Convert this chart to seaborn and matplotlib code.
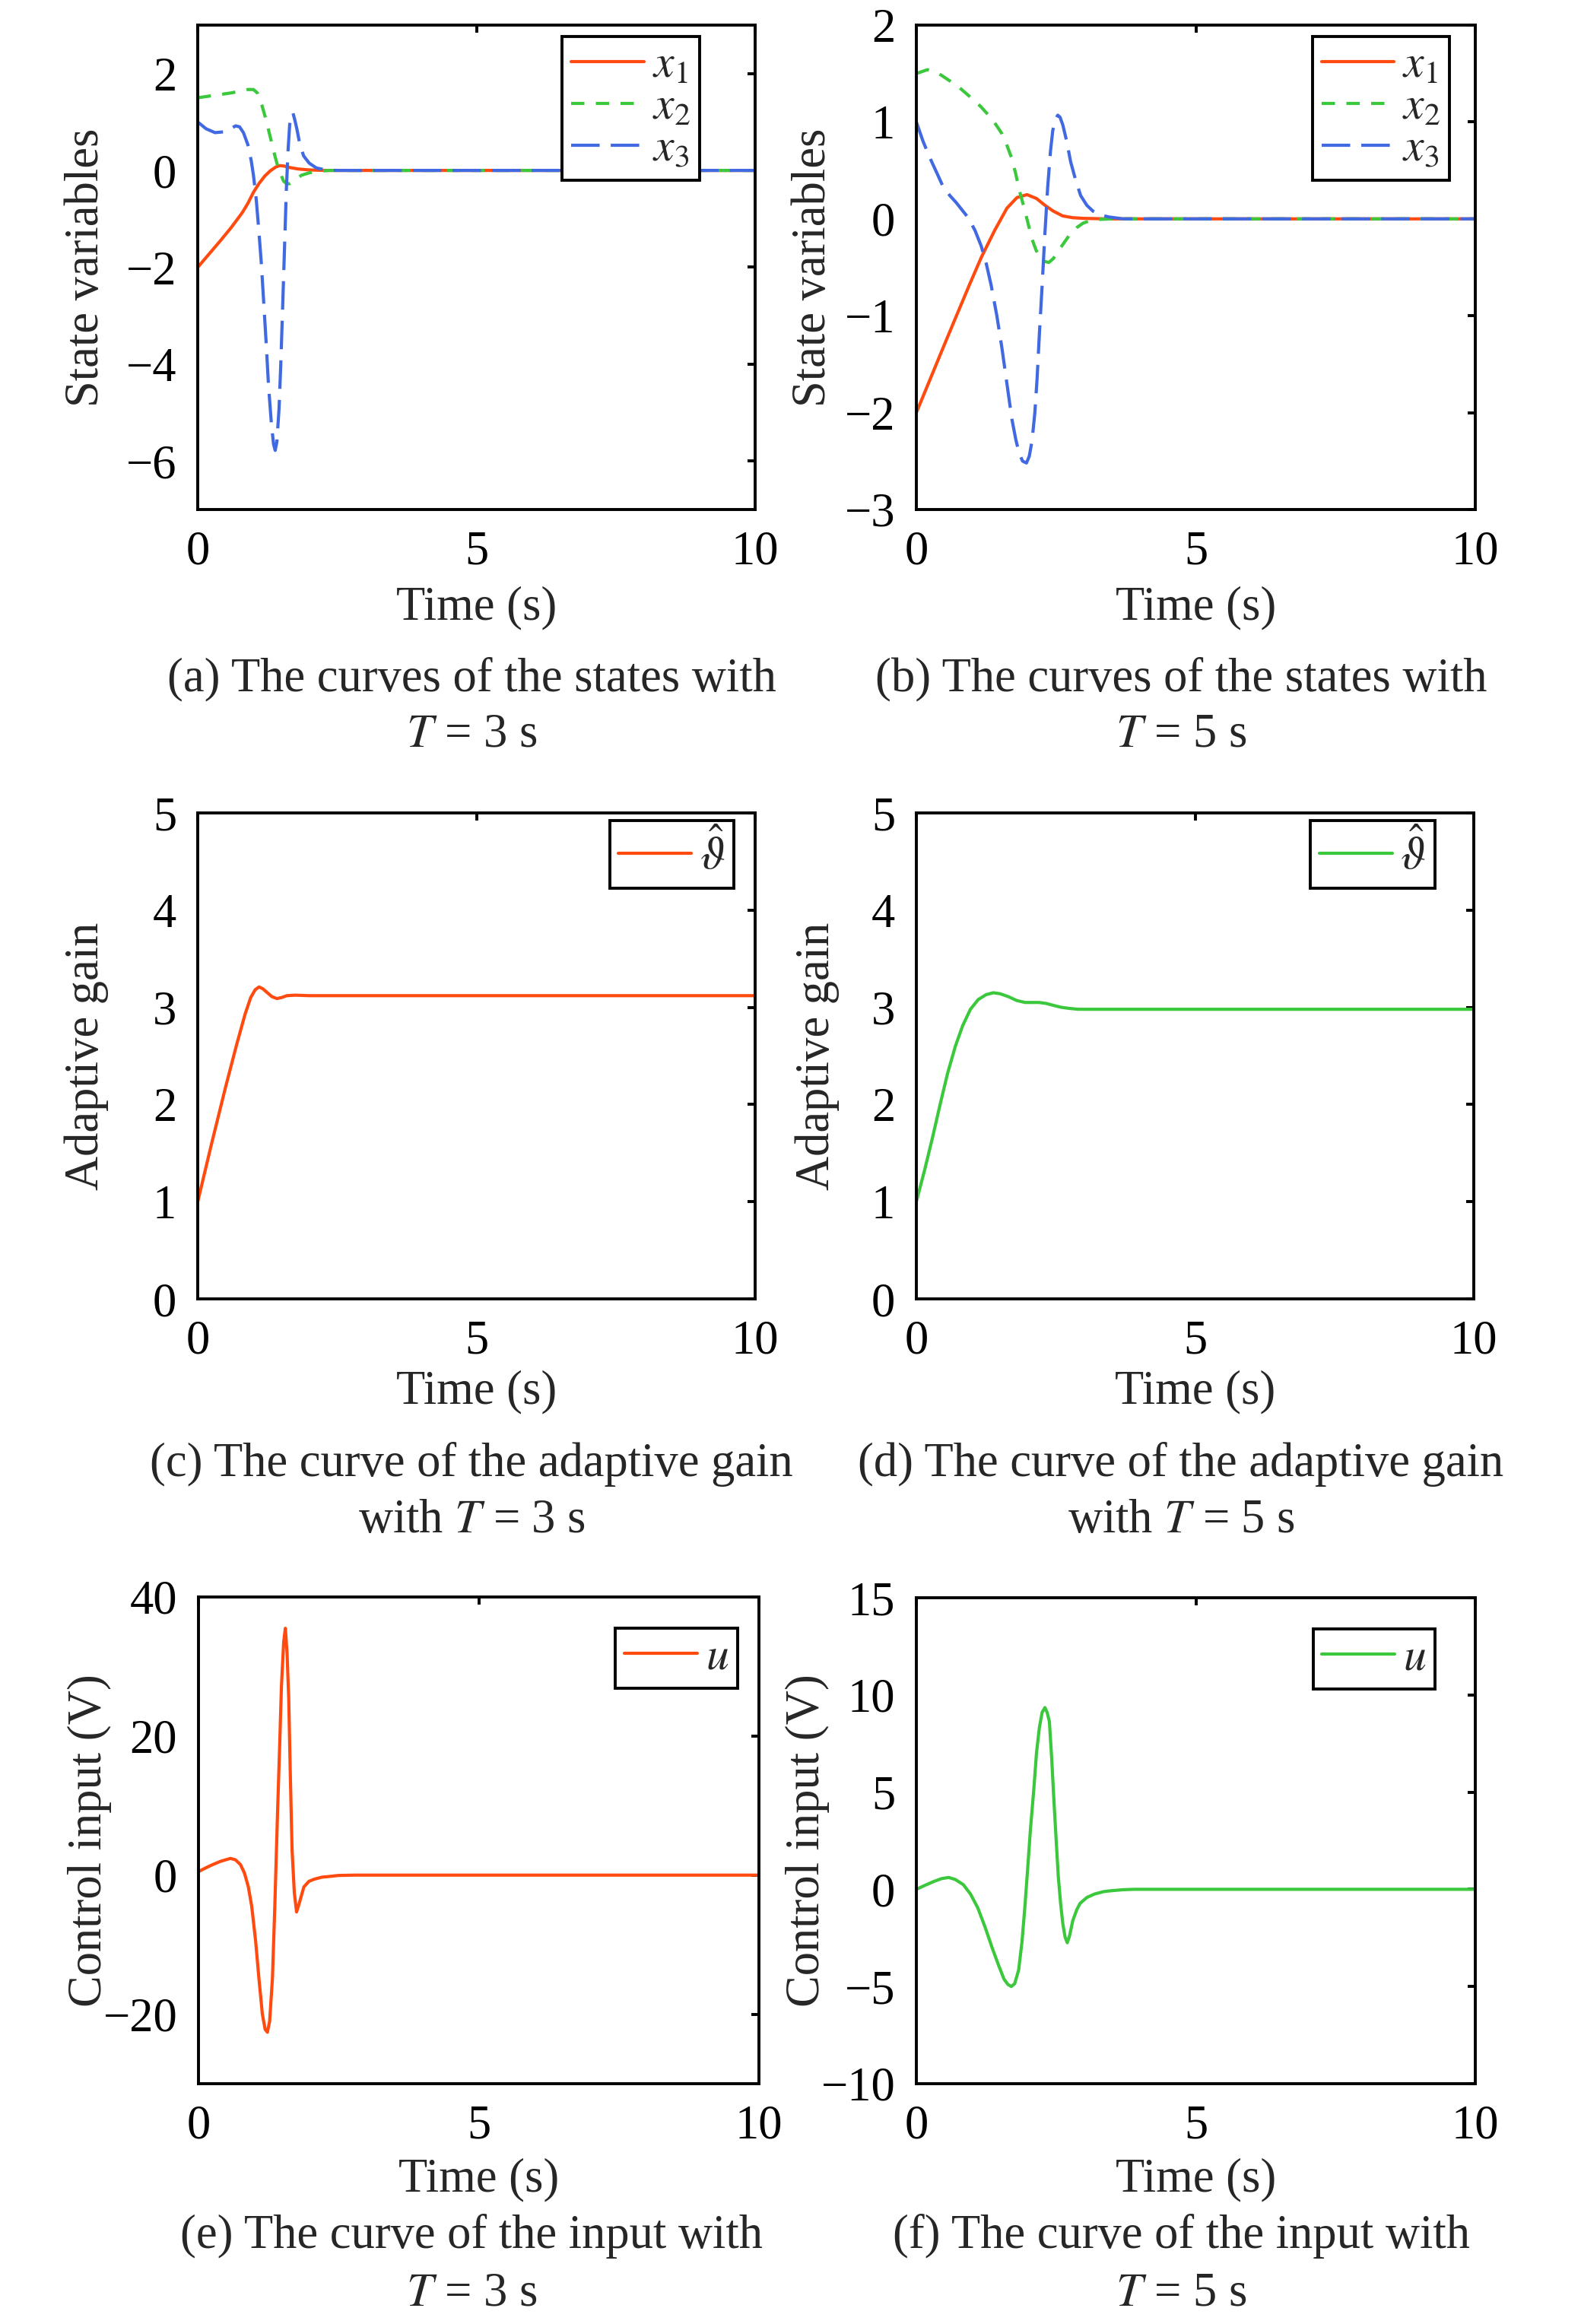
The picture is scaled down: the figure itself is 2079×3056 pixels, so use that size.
import matplotlib
matplotlib.use("Agg")
import numpy as np
import pandas as pd
import matplotlib.pyplot as plt
import seaborn as sns

# ---- data (time in s) ----
# (a) states, T = 3 s
t_a1 = [0, 0.2, 0.4, 0.6, 0.8, 0.9, 1.0, 1.1, 1.2, 1.3, 1.4, 1.47, 1.55, 1.65, 1.8, 2.0, 2.3, 10]
x1_a = [-2, -1.73, -1.46, -1.18, -0.87, -0.68, -0.45, -0.27, -0.12, -0.01, 0.07, 0.1, 0.09, 0.06, 0.03, 0.01, 0, 0]
t_a2 = [0, 0.3, 0.6, 0.9, 1.0, 1.07, 1.15, 1.22, 1.31, 1.38, 1.43, 1.49, 1.54, 1.6, 1.66, 1.75, 1.86, 2.0,
        2.13, 2.35, 10]
x2_a = [1.5, 1.55, 1.6, 1.67, 1.67, 1.6, 1.35, 1.07, 0.65, 0.32, 0.11, -0.08, -0.22, -0.28, -0.27, -0.2, -0.1,
        -0.05, -0.02, 0, 0]
t_a3 = [0, 0.15, 0.31, 0.5, 0.68, 0.75, 0.82, 0.9, 0.96, 1.0, 1.05, 1.09, 1.14, 1.18, 1.23, 1.27, 1.32, 1.36,
        1.39, 1.42, 1.46, 1.49, 1.52, 1.56, 1.59, 1.62, 1.65, 1.68, 1.71, 1.74, 1.78, 1.83, 1.9, 2.0, 2.13, 2.3,
        2.5, 10]
x3_a = [1.0, 0.86, 0.78, 0.8, 0.92, 0.9, 0.78, 0.53, 0.2, -0.1, -0.6, -1.15, -1.9, -2.65, -3.6, -4.44, -5.2,
        -5.65, -5.78, -5.6, -4.9, -4.0, -2.95, -1.5, -0.4, 0.4, 0.95, 1.17, 1.18, 1.05, 0.85, 0.55, 0.3, 0.15,
        0.05, 0.01, 0, 0]

# (b) states, T = 5 s
t_b1 = [0, 0.25, 0.5, 0.71, 0.95, 1.16, 1.4, 1.62, 1.8, 1.98, 2.15, 2.3, 2.45, 2.62, 2.8, 3.0, 3.4, 10]
x1_b = [-2, -1.65, -1.3, -1.01, -0.68, -0.4, -0.12, 0.11, 0.22, 0.25, 0.21, 0.14, 0.08, 0.03, 0.012, 0.005, 0, 0]
t_b2 = [0, 0.2, 0.4, 0.61, 0.8, 0.98, 1.15, 1.34, 1.45, 1.53, 1.62, 1.71, 1.78, 1.84, 1.93, 2.0, 2.07, 2.14,
        2.21, 2.3, 2.37, 2.45, 2.53, 2.65, 2.76, 2.87, 2.98, 3.1, 3.26, 3.5, 10]
x2_b = [1.5, 1.54, 1.5, 1.42, 1.34, 1.25, 1.16, 1.04, 0.95, 0.88, 0.76, 0.62, 0.46, 0.3, 0.11, -0.05, -0.21,
        -0.32, -0.4, -0.44, -0.45, -0.41, -0.34, -0.24, -0.15, -0.09, -0.045, -0.02, -0.006, 0, 0]
t_b3 = [0, 0.12, 0.25, 0.37, 0.48, 0.6, 0.71, 0.82, 0.93, 1.05, 1.16, 1.25, 1.34, 1.44, 1.53, 1.62, 1.71, 1.78,
        1.84, 1.9, 1.97, 2.02, 2.07, 2.12, 2.16, 2.2, 2.25, 2.3, 2.35, 2.4, 2.44, 2.49, 2.53, 2.57, 2.62, 2.69,
        2.76, 2.85, 2.94, 3.05, 3.16, 3.3, 3.44, 3.7, 10]
x3_b = [1.0, 0.8, 0.62, 0.47, 0.33, 0.24, 0.17, 0.09, 0.01, -0.12, -0.28, -0.46, -0.69, -1.0, -1.33, -1.7,
        -2.07, -2.28, -2.42, -2.5, -2.52, -2.45, -2.29, -2.0, -1.65, -1.2, -0.69, -0.15, 0.33, 0.7, 0.91, 1.03,
        1.07, 1.05, 0.97, 0.8, 0.59, 0.4, 0.24, 0.14, 0.08, 0.04, 0.02, 0, 0]

# (c) adaptive gain, T = 3 s
t_c = [0, 0.25, 0.5, 0.7, 0.85, 0.95, 1.03, 1.1, 1.17, 1.25, 1.33, 1.42, 1.5, 1.6, 1.75, 2.0, 10]
g_c = [1.0, 1.6, 2.18, 2.62, 2.93, 3.1, 3.18, 3.21, 3.19, 3.15, 3.11, 3.09, 3.1, 3.12, 3.125, 3.12, 3.12]

# (d) adaptive gain, T = 5 s
t_d = [0, 0.15, 0.29, 0.43, 0.56, 0.7, 0.83, 0.97, 1.11, 1.25, 1.38, 1.5, 1.65, 1.8, 1.95, 2.08, 2.2, 2.33,
       2.46, 2.6, 2.73, 2.9, 3.1, 10]
g_d = [1.0, 1.33, 1.66, 2.01, 2.32, 2.6, 2.81, 2.98, 3.08, 3.13, 3.15, 3.14, 3.11, 3.07, 3.05, 3.05, 3.05, 3.04,
       3.02, 3.0, 2.99, 2.98, 2.98, 2.98]

# (e) control input, T = 3 s
t_e = [0, 0.12, 0.25, 0.4, 0.57, 0.66, 0.75, 0.82, 0.89, 0.95, 1.02, 1.08, 1.14, 1.19, 1.23, 1.27, 1.32, 1.36,
       1.41, 1.45, 1.48, 1.52, 1.55, 1.58, 1.61, 1.64, 1.67, 1.71, 1.75, 1.8, 1.88, 1.97, 2.06, 2.2, 2.33, 2.5,
       2.8, 10]
u_e = [0.5, 1.0, 1.5, 2.0, 2.4, 2.2, 1.5, 0.3, -1.7, -4.5, -9.5, -15, -20, -22.2, -22.6, -21, -14.8, -5, 8.8,
       19, 27.1, 33.5, 35.5, 32, 25.5, 14, 3.6, -2.5, -5.3, -4.0, -1.7, -0.9, -0.6, -0.3, -0.2, -0.05, 0, 0]

# (f) control input, T = 5 s
t_f = [0, 0.15, 0.31, 0.45, 0.58, 0.7, 0.84, 0.97, 1.1, 1.23, 1.36, 1.47, 1.57, 1.64, 1.7, 1.76, 1.83, 1.89,
       1.94, 1.99, 2.04, 2.1, 2.15, 2.2, 2.25, 2.3, 2.34, 2.38, 2.42, 2.46, 2.5, 2.54, 2.58, 2.62, 2.66, 2.7,
       2.74, 2.8, 2.87, 2.93, 3.05, 3.19, 3.35, 3.46, 3.7, 3.9, 10]
u_f = [0, 0.2, 0.4, 0.55, 0.61, 0.5, 0.24, -0.25, -0.96, -1.95, -3.04, -3.9, -4.63, -4.9, -5.0, -4.85, -4.15,
       -2.7, -0.96, 1.0, 3.04, 5.1, 7.03, 8.3, 9.1, 9.35, 9.1, 8.63, 6.8, 4.63, 2.6, 0.64, -0.7, -1.76, -2.45,
       -2.75, -2.4, -1.6, -1.05, -0.72, -0.42, -0.24, -0.12, -0.08, -0.02, 0, 0]

state_labels = [r"$x_1$", r"$x_2$", r"$x_3$"]
captions = [
    ("(a) The curves of the states with", r"$T$ = 3 s"),
    ("(b) The curves of the states with", r"$T$ = 5 s"),
    ("(c) The curve of the adaptive gain", r"with $T$ = 3 s"),
    ("(d) The curve of the adaptive gain", r"with $T$ = 5 s"),
    ("(e) The curve of the input with", r"$T$ = 3 s"),
    ("(f) The curve of the input with", r"$T$ = 5 s"),
]

ORANGE = "#FF4B0F"
GREEN = "#3CC83C"
BLUE = "#4169E1"

sns.set_theme(style="white")
plt.rcParams["font.family"] = ["Liberation Serif", "DejaVu Serif"]
plt.rcParams["mathtext.fontset"] = "stix"
plt.rcParams["axes.unicode_minus"] = True

FS = 22.5
LFS = 21.5

fig = plt.figure(figsize=(10.395, 15.28), dpi=200)

W, H = 2079, 3056
def make_ax(left, top, right, bottom):
    return fig.add_axes([left / W, 1 - bottom / H, (right - left) / W, (bottom - top) / H])

ax_a = make_ax(260, 33, 993, 670)
ax_b = make_ax(1205, 33, 1940, 670)
ax_c = make_ax(260, 1069, 993, 1708)
ax_d = make_ax(1205, 1069, 1938, 1708)
ax_e = make_ax(261, 2100, 998, 2740)
ax_f = make_ax(1205, 2101, 1940, 2740)


def states_plot(ax, ts, xs):
    frames = []
    for t, x, lab in zip(ts, xs, state_labels):
        frames.append(pd.DataFrame({"t": t, "v": x, "s": lab}))
    df = pd.concat(frames, ignore_index=True)
    sns.lineplot(data=df, x="t", y="v", hue="s", style="s", hue_order=state_labels,
                 style_order=state_labels,
                 palette=dict(zip(state_labels, [ORANGE, GREEN, BLUE])),
                 dashes=dict(zip(state_labels, ["", (4.2, 3.6), (9, 3.5)])),
                 estimator=None, sort=False, lw=1.5, ax=ax, legend=False)


def single_plot(ax, t, v, color):
    sns.lineplot(x=t, y=v, color=color, lw=1.5, estimator=None, sort=False, ax=ax)


states_plot(ax_a, [t_a1, t_a2, t_a3], [x1_a, x2_a, x3_a])
states_plot(ax_b, [t_b1, t_b2, t_b3], [x1_b, x2_b, x3_b])
single_plot(ax_c, t_c, g_c, ORANGE)
single_plot(ax_d, t_d, g_d, GREEN)
single_plot(ax_e, t_e, u_e, ORANGE)
single_plot(ax_f, t_f, u_f, GREEN)

ylims = [(-7, 3), (-3, 2), (0, 5), (0, 5), (-30, 40), (-10, 15)]
yticks = [[-6, -4, -2, 0, 2], [-3, -2, -1, 0, 1, 2], [0, 1, 2, 3, 4, 5], [0, 1, 2, 3, 4, 5],
          [-20, 0, 20, 40], [-10, -5, 0, 5, 10, 15]]
ylabels = ["State variables", "State variables", "Adaptive gain", "Adaptive gain",
           "Control input (V)", "Control input (V)"]
ylab_x = [-0.199, -0.184, -0.2, -0.178, -0.194, -0.195]
xlab_y = [-0.204, -0.204, -0.191, -0.191, -0.198, -0.198]
leg_anchor = [(0.90, 0.976), (0.954, 0.976), (0.962, 0.984), (0.93, 0.984), (0.962, 0.936), (0.928, 0.936)]

axes = [ax_a, ax_b, ax_c, ax_d, ax_e, ax_f]
for i, ax in enumerate(axes):
    ax.set_xlim(0, 10)
    ax.set_ylim(*ylims[i])
    ax.set_xticks([0, 5, 10])
    ax.set_yticks(yticks[i])
    ax.tick_params(direction="in", top=True, right=True, length=3.6, width=1.4, pad=10,
                   labelsize=FS, colors="black")
    for sp in ax.spines.values():
        sp.set_linewidth(1.4)
        sp.set_color("black")
        sp.set_visible(True)
    ax.set_facecolor("white")
    ax.set_xlabel("Time (s)", fontsize=FS, va="center")
    ax.xaxis.set_label_coords(0.5, xlab_y[i])
    ax.set_ylabel(ylabels[i], fontsize=FS, va="center")
    ax.yaxis.set_label_coords(ylab_x[i], 0.5)

    if i < 2:
        labels = state_labels
    elif i < 4:
        labels = [r"$\hat{\vartheta}$"]
    else:
        labels = [r"$u$"]
    leg = ax.legend(ax.lines[:len(labels)], labels, loc="upper right",
                    bbox_to_anchor=leg_anchor[i], fontsize=LFS, frameon=True, fancybox=False,
                    framealpha=1, edgecolor="black", borderpad=0.2, labelspacing=0.0,
                    handlelength=1.6, handletextpad=0.18, borderaxespad=0)
    leg.get_frame().set_linewidth(1.4)

cap_x = [620 / W, 1553 / W]
cap_y = [(893, 967), (1926, 2000), (2941, 3017)]
for i, (l1, l2) in enumerate(captions):
    row, col = divmod(i, 2)
    fig.text(cap_x[col], 1 - cap_y[row][0] / H, l1, ha="center", va="center", fontsize=FS)
    fig.text(cap_x[col], 1 - cap_y[row][1] / H, l2, ha="center", va="center", fontsize=FS)

fig.savefig("out.png", dpi=200, facecolor="white")
